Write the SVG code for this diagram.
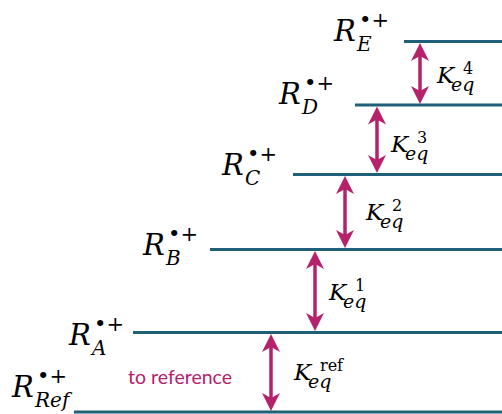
<svg xmlns="http://www.w3.org/2000/svg" width="502" height="414" viewBox="0 0 502 414">
<style>
.lvl{stroke:#1f5f78;stroke-width:3;fill:none}
.arr{stroke:#b5226b;stroke-width:3.5;fill:none;marker-start:url(#ah);marker-end:url(#ah)}
.m{font-family:"DejaVu Serif","Liberation Serif",serif;font-style:italic;fill:#000}
.R{font-size:29px}
.rs{font-size:20px}
.up{font-style:normal;font-size:21px}
.K{font-size:23px}
.ks{font-size:19px}
.kup{font-style:normal;font-size:16px}
.note{font-family:Lato,"Open Sans","Liberation Sans",sans-serif;font-size:19.5px;fill:#b5226b}
</style>
<defs>
<marker id="ah" viewBox="0 0 18 18" refX="8" refY="9" markerWidth="18" markerHeight="18" markerUnits="userSpaceOnUse" orient="auto-start-reverse">
<path d="M0,0 L18,9 L0,18 L5,9 Z" fill="#b5226b"/>
</marker>
</defs>
<g id="levels">
<g id="level-E"><line class="lvl" x1="404" y1="41.5" x2="502" y2="41.5"/>
<text class="m R" x="334" y="41">R<tspan class="rs" x="357" y="51">E</tspan><tspan class="up" x="359" y="27">•+</tspan></text></g>
<g id="level-D"><line class="lvl" x1="355" y1="105" x2="502" y2="105"/>
<text class="m R" x="279" y="104">R<tspan class="rs" x="302" y="114">D</tspan><tspan class="up" x="304" y="90">•+</tspan></text></g>
<g id="level-C"><line class="lvl" x1="293" y1="174.5" x2="502" y2="174.5"/>
<text class="m R" x="222" y="175">R<tspan class="rs" x="245" y="185">C</tspan><tspan class="up" x="247" y="161">•+</tspan></text></g>
<g id="level-B"><line class="lvl" x1="210" y1="249.5" x2="502" y2="249.5"/>
<text class="m R" x="143" y="255">R<tspan class="rs" x="166" y="265">B</tspan><tspan class="up" x="168" y="241">•+</tspan></text></g>
<g id="level-A"><line class="lvl" x1="133" y1="332.5" x2="502" y2="332.5"/>
<text class="m R" x="69" y="345">R<tspan class="rs" x="92" y="355">A</tspan><tspan class="up" x="94" y="331">•+</tspan></text></g>
<g id="level-Ref"><line class="lvl" x1="74" y1="412" x2="502" y2="412"/>
<text class="m R" x="12" y="397">R<tspan class="rs" x="35" y="407">Ref</tspan><tspan class="up" x="37" y="383">•+</tspan></text></g>
</g>
<g id="connectors">
<line class="arr" x1="420" y1="53" x2="420" y2="94"/>
<line class="arr" x1="377" y1="116.5" x2="377" y2="163"/>
<line class="arr" x1="345" y1="186" x2="345" y2="238"/>
<line class="arr" x1="315" y1="261" x2="315" y2="321"/>
<line class="arr" x1="271" y1="344" x2="271" y2="401"/>
</g>
<g id="labels">
<text class="m K" x="437" y="83">K<tspan class="ks" x="451" y="91">eq</tspan><tspan class="kup" x="463" y="74">4</tspan></text>
<text class="m K" x="391" y="152">K<tspan class="ks" x="405" y="160">eq</tspan><tspan class="kup" x="417" y="143">3</tspan></text>
<text class="m K" x="366" y="220">K<tspan class="ks" x="380" y="228">eq</tspan><tspan class="kup" x="392" y="211">2</tspan></text>
<text class="m K" x="329" y="300">K<tspan class="ks" x="343" y="308">eq</tspan><tspan class="kup" x="355" y="291">1</tspan></text>
<text class="m K" x="294" y="380">K<tspan class="ks" x="308" y="388">eq</tspan><tspan class="kup" x="320" y="371">ref</tspan></text>
<text class="note" x="128" y="384">to reference</text>
</g>
</svg>
